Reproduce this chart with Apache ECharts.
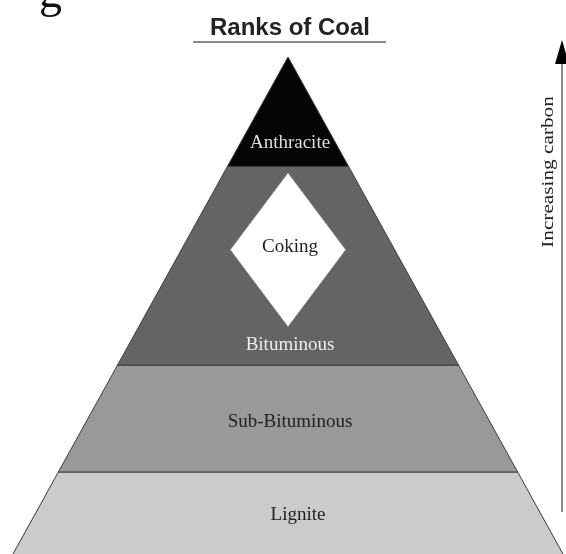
<!DOCTYPE html>
<html>
<head>
<meta charset="utf-8">
<script src="https://cdn.jsdelivr.net/npm/echarts@6/dist/echarts.min.js"></script>
<style>
  html, body { margin: 0; padding: 0; background: #fff; }
  #main { width: 566px; height: 554px; }
</style>
</head>
<body>
<div id="main"></div>
<script>
// ranks of coal, bottom to top (levels are % of pyramid height, base runs past the picture)
var ranks = ['Lignite', 'Sub-Bituminous', 'Bituminous', 'Anthracite'];
var levelFrom = [-1, 16.5, 38, 78];
var levelTo = [16.5, 38, 78, 100];
// coking coal zone inside the bituminous band
var cokingLevels = [45.7, 61.2, 76.7];
var cokingHalfWidth = 0.21;

var bandColors = ['#cbcbcb', '#999999', '#646464', '#050505'];
var textColors = ['#222', '#222', '#eeeeee', '#dddddd'];
var labelPos = [0.5, 0.47, 0.10, 0.21]; // where the label sits inside its band
var labelDx = [10, 2, 2, 2];

var chart = echarts.init(document.getElementById('main'));

function halfW(level) {
    return 1 - level / 100;
}

var option = {
    animation: false,
    title: {
        text: 'Ranks of Coal',
        left: 285,
        textAlign: 'center',
        top: 11,
        textStyle: {
            fontFamily: 'Liberation Sans',
            fontWeight: 'bold',
            fontSize: 24,
            color: '#222'
        }
    },
    grid: { left: 13, right: 3, top: 57, bottom: 0 },
    xAxis: { type: 'value', min: -1, max: 1, show: false },
    yAxis: { type: 'value', min: 0, max: 100, show: false },
    series: [
        {
            type: 'custom',
            clip: false,
            data: ranks.map(function (r, i) { return [i, levelFrom[i], levelTo[i]]; }),
            renderItem: function (params, api) {
                var i = api.value(0), a = api.value(1), b = api.value(2);
                var p1 = api.coord([-halfW(a), a]);
                var p2 = api.coord([halfW(a), a]);
                var p3 = api.coord([halfW(b), b]);
                var p4 = api.coord([-halfW(b), b]);
                var ly = a + (b - a) * labelPos[i];
                var lp = api.coord([0, ly]);
                return {
                    type: 'group',
                    children: [
                        {
                            type: 'polygon',
                            shape: { points: [p1, p2, p3, p4] },
                            style: { fill: bandColors[i], stroke: '#3a3a3a', lineWidth: 1 }
                        },
                        {
                            type: 'text',
                            x: lp[0] + labelDx[i],
                            y: lp[1],
                            style: {
                                text: ranks[i],
                                fill: textColors[i],
                                font: '19px "Liberation Serif"',
                                align: 'center',
                                verticalAlign: 'middle'
                            }
                        }
                    ]
                };
            }
        },
        {
            type: 'custom',
            data: [[cokingLevels[0], cokingLevels[1], cokingLevels[2], cokingHalfWidth]],
            renderItem: function (params, api) {
                var lo = api.value(0), mid = api.value(1), hi = api.value(2), hw = api.value(3);
                var top = api.coord([0, hi]);
                var right = api.coord([hw, mid]);
                var bottom = api.coord([0, lo]);
                var left = api.coord([-hw, mid]);
                var c = api.coord([0, mid + 0.6]);
                return {
                    type: 'group',
                    children: [
                        {
                            type: 'polygon',
                            shape: { points: [top, right, bottom, left] },
                            style: { fill: '#ffffff', stroke: '#777', lineWidth: 0.5 }
                        },
                        {
                            type: 'text',
                            x: c[0] + 2,
                            y: c[1],
                            style: {
                                text: 'Coking',
                                fill: '#222',
                                font: '19px "Liberation Serif"',
                                align: 'center',
                                verticalAlign: 'middle'
                            }
                        }
                    ]
                };
            }
        }
    ],
    graphic: [
        // title underline
        { type: 'line', shape: { x1: 193, y1: 42, x2: 386, y2: 42 }, style: { stroke: '#8a8a8a', lineWidth: 2 } },
        // cropped caption glyph at top-left (only its tail shows)
        { type: 'text', x: 39, y: 18, style: { text: 'g', font: '46px "Liberation Serif"', fill: '#111', verticalAlign: 'bottom' } },
        // increasing carbon arrow
        { type: 'line', shape: { x1: 562, y1: 512, x2: 562, y2: 58 }, style: { stroke: '#8a8a8a', lineWidth: 2 } },
        { type: 'polygon', shape: { points: [[562, 40], [555, 64], [569, 64]] }, style: { fill: '#000' } },
        {
            type: 'text',
            x: 549,
            y: 172,
            rotation: Math.PI / 2,
            scaleX: 1.25,
            style: {
                text: 'Increasing carbon',
                font: '17px "Liberation Serif"',
                fill: '#222',
                align: 'center',
                verticalAlign: 'middle'
            }
        }
    ]
};

chart.setOption(option);
</script>
</body>
</html>
